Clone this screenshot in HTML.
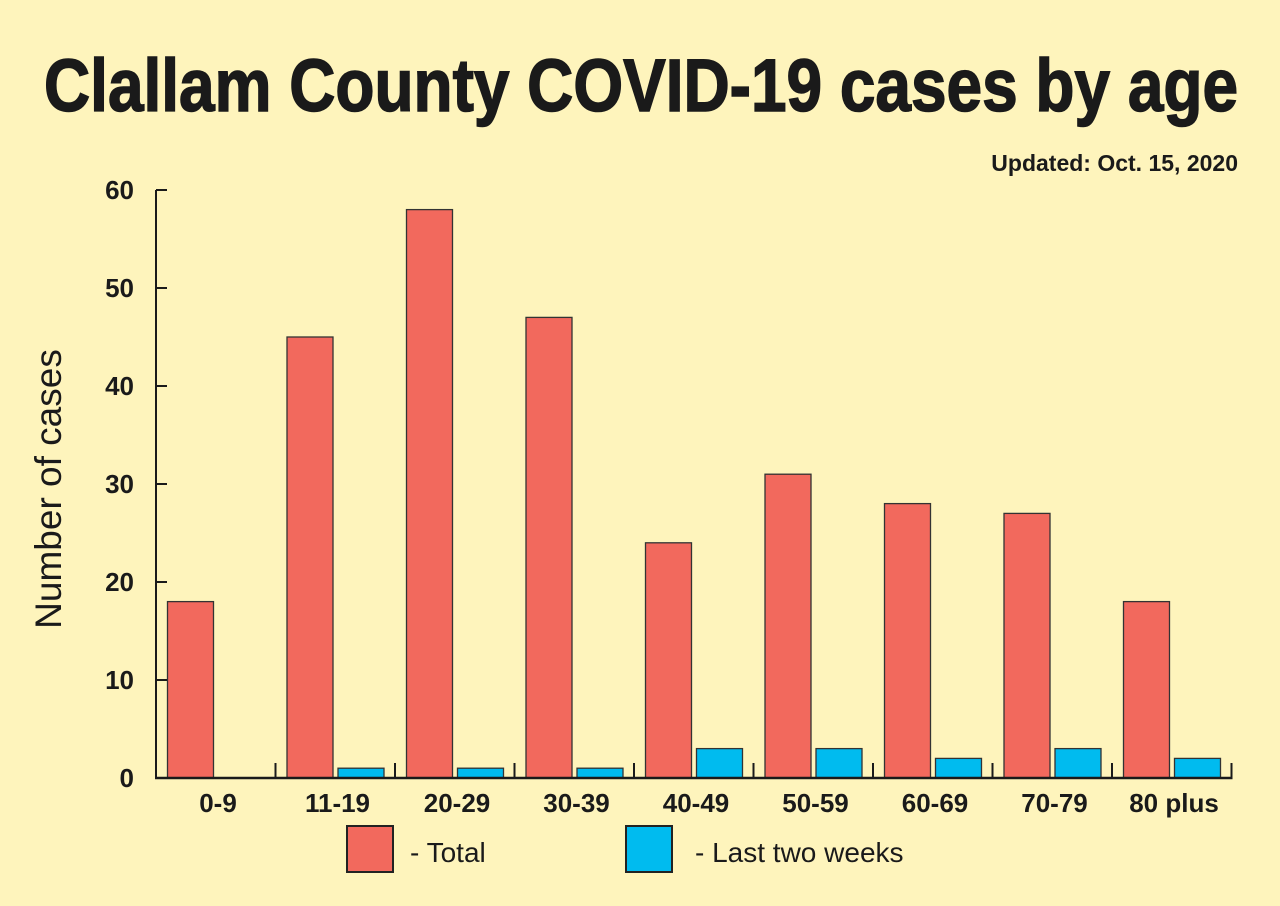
<!DOCTYPE html>
<html><head><meta charset="utf-8"><style>
html,body{margin:0;padding:0;background:#fef4bc;}
svg{display:block;font-family:"Liberation Sans",sans-serif;}
</style></head><body>
<svg width="1280" height="906" viewBox="0 0 1280 906">
<rect width="1280" height="906" fill="#fef4bc"/>
<text x="44" y="111" font-size="74" font-weight="bold" fill="#1a1a1a" stroke="#1a1a1a" stroke-width="1.5" textLength="1194" lengthAdjust="spacingAndGlyphs">Clallam County COVID-19 cases by age</text>
<text x="1238" y="171" font-size="23" font-weight="bold" fill="#1a1a1a" text-anchor="end">Updated: Oct. 15, 2020</text>
<text transform="translate(61,489) rotate(-90)" font-size="37" fill="#1a1a1a" text-anchor="middle">Number of cases</text>
<g id="plot"></g>
<rect x="347" y="826" width="46" height="46" fill="#f2695d" stroke="#222" stroke-width="2"/>
<text x="410" y="862" font-size="28" fill="#1a1a1a">- Total</text>
<rect x="626" y="826" width="46" height="46" fill="#00bbef" stroke="#222" stroke-width="2"/>
<text x="695" y="862" font-size="28" fill="#1a1a1a">- Last two weeks</text>
</svg>
<script>
const categories = ["0-9","11-19","20-29","30-39","40-49","50-59","60-69","70-79","80 plus"];
const totalCases = [18,45,58,47,24,31,28,27,18];
const recentCases = [0,1,1,1,3,3,2,3,2];
const yTicks = [0,10,20,30,40,50,60];

const NS = "http://www.w3.org/2000/svg";
const g = document.getElementById("plot");
const x0 = 156, groupW = 119.5, y0 = 778, yTop = 190, yMax = 60;
const y = v => y0 - (v / yMax) * (y0 - yTop);
const gx = i => x0 + i * groupW;
function mk(tag, attrs) { const e = document.createElementNS(NS, tag); for (const k in attrs) e.setAttribute(k, attrs[k]); g.appendChild(e); return e; }

categories.forEach((c, i) => {
  if (totalCases[i] > 0) {
    const r = mk("rect", {x: gx(i) + 11.5, y: y(totalCases[i]), width: 46, height: y0 - y(totalCases[i]), fill: "#f2695d", stroke: "#333", "stroke-width": 1.3});
    
    
  }
  if (recentCases[i] > 0) {
    const b = mk("rect", {x: gx(i) + 62.5, y: y(recentCases[i]), width: 46, height: y0 - y(recentCases[i]), fill: "#00bbef", stroke: "#333", "stroke-width": 1.3});
    
    
  }
  const t = mk("text", {x: gx(i) + 62, y: 812, "font-size": 26, "font-weight": "bold", fill: "#1a1a1a", "text-anchor": "middle"});
  t.textContent = c;
  
  
  const tk = mk("line", {x1: gx(i + 1), x2: gx(i + 1), y1: y0, y2: y0 - 15, stroke: "#1a1a1a", "stroke-width": 2});
  
  
});

yTicks.forEach(v => {
  const l = mk("line", {x1: x0, x2: x0 + 11, y1: y(v), y2: y(v), stroke: "#1a1a1a", "stroke-width": 2});
  
  
  const t = mk("text", {x: 134, y: y(v) + 9, "font-size": 26, "font-weight": "bold", fill: "#1a1a1a", "text-anchor": "end"});
  t.textContent = v;
  
  
});

const ya = mk("line", {x1: x0, x2: x0, y1: yTop, y2: y0 + 1, stroke: "#1a1a1a", "stroke-width": 2});


const xa = mk("line", {x1: x0 - 1, x2: gx(categories.length) + 1, y1: y0, y2: y0, stroke: "#1a1a1a", "stroke-width": 2.5});


</script>
</body></html>
